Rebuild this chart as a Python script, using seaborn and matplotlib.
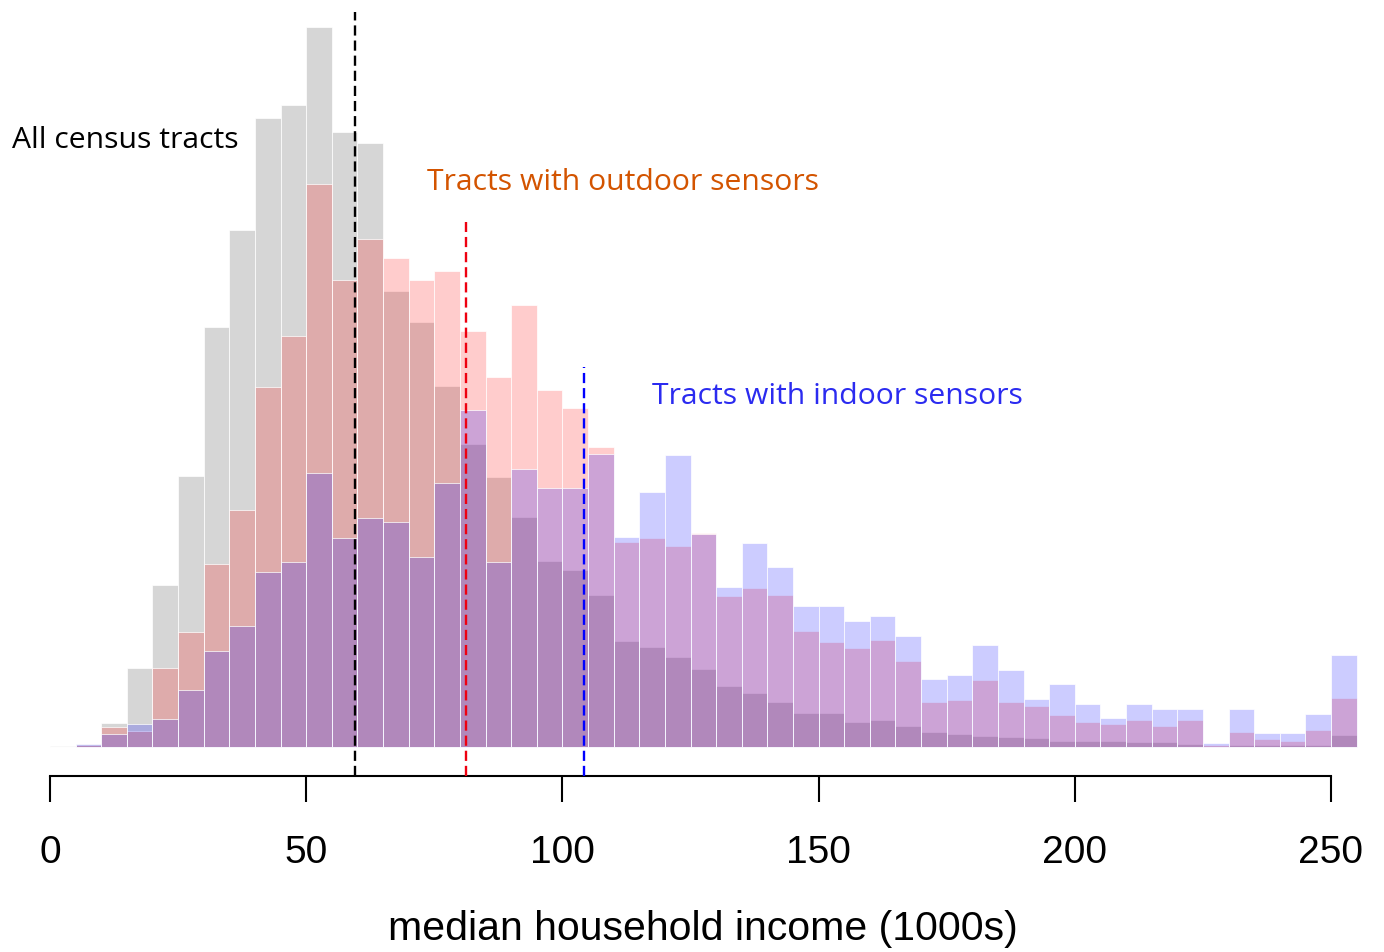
import numpy as np
import pandas as pd
import matplotlib
matplotlib.use("Agg")
import matplotlib.pyplot as plt
import seaborn as sns

# ---- data (bin counts, arbitrary units, 5k-wide bins from 0 to 255) ----
bin_left = list(range(0, 255, 5))
all_tracts = [0.7, 3, 24, 79, 162, 271, 420, 517, 629, 642,
              720, 615, 604, 456, 425, 361, 303, 270, 230, 186,
              177, 152, 106, 100, 90, 78, 61, 54, 45, 34,
              34, 25, 27, 21, 15, 13, 11, 10, 9, 6,
              6, 6, 5, 5, 3, 1, 2, 2, 2, 2, 12]
outdoor = [0, 2, 20, 16, 79, 115, 183, 237, 360, 411,
           563, 467, 508, 489, 467, 476, 416, 370, 442, 357,
           339, 300, 205, 209, 201, 214, 151, 159, 152, 116,
           105, 99, 107, 86, 45, 47, 67, 45, 41, 32,
           25, 23, 27, 21, 27, 2, 15, 8, 6, 17, 49]
indoor = [0, 3, 13, 23, 28, 57, 96, 121, 175, 185,
          274, 209, 229, 225, 190, 264, 337, 185, 278, 259,
          259, 293, 210, 255, 292, 213, 160, 204, 180, 141,
          141, 126, 131, 111, 68, 72, 102, 77, 48, 63,
          43, 29, 43, 38, 38, 4, 38, 14, 14, 33, 92]
means = [59.5, 81.1, 104.2]           # all, outdoor, indoor
mean_colors = ["black", "#ee0010", "#0000ff"]
xticks = [0, 50, 100, 150, 200, 250]
labels = ["All census tracts", "Tracts with outdoor sensors", "Tracts with indoor sensors"]
label_colors = ["black", "#d35400", "#2b2bf0"]

df = pd.DataFrame({"left": bin_left, "all": all_tracts,
                   "outdoor": outdoor, "indoor": indoor})
df["mid"] = df["left"] + 2.5

sns.set_style("white")
plt.rcParams["font.family"] = ["Liberation Sans", "DejaVu Sans"]

fig = plt.figure(figsize=(13.84, 9.52), dpi=100)
ax = fig.add_axes([0, 205 / 952, 1, 747 / 952])

for col, color, alpha in [("all", "#d6d6d6", 1.0),
                          ("outdoor", (1, 0, 0), 0.2),
                          ("indoor", (0, 0, 1), 0.2)]:
    sns.histplot(data=df, x="mid", weights=col, binwidth=5, binrange=(0, 255),
                 ax=ax, color=color, alpha=alpha, edgecolor="white",
                 linewidth=0.5, clip_on=False)

ax.set_xlim(-50 / 5.124, (1384 - 50) / 5.124)
ax.set_ylim(0, 747)

# mean lines
tops = [735, 525, 380]
for m, c, t in zip(means, mean_colors, tops):
    ax.vlines(m, -29, t, colors=c, linewidth=1.7,
              linestyles=(0, (4.3, 2.1)), clip_on=False, zorder=5)

# axis styling (R base-plot look)
for s in ["left", "top", "right"]:
    ax.spines[s].set_visible(False)
ax.spines["bottom"].set_position(("outward", 21))
ax.spines["bottom"].set_bounds(0, 250)
ax.spines["bottom"].set_linewidth(1.5)
ax.spines["bottom"].set_color("black")
ax.set_yticks([])
ax.set_ylabel("")
ax.set_xlabel("")
ax.set_xticks(xticks)
ax.set_xticklabels([str(t) for t in xticks])
ax.tick_params(axis="x", bottom=True, direction="out", length=18.5, width=1.5,
               pad=24, labelsize=28, colors="black")

fig.text(0.5076, 12 / 952, "median household income (1000s)",
         ha="center", va="baseline", fontsize=29.5, color="black")

# annotations
pos = [(-50 / 5.124 + 12 / 5.124, 747 - 140),
       ((427 - 50) / 5.124, 747 - 182),
       ((652 - 50) / 5.124, 747 - 397)]
for (x, y), txt, c in zip(pos, labels, label_colors):
    ax.text(x, y, txt, color=c, fontsize=21.7, ha="left", va="center",
            family=["Open Sans", "DejaVu Sans"])

fig.savefig("out.png", dpi=100)
